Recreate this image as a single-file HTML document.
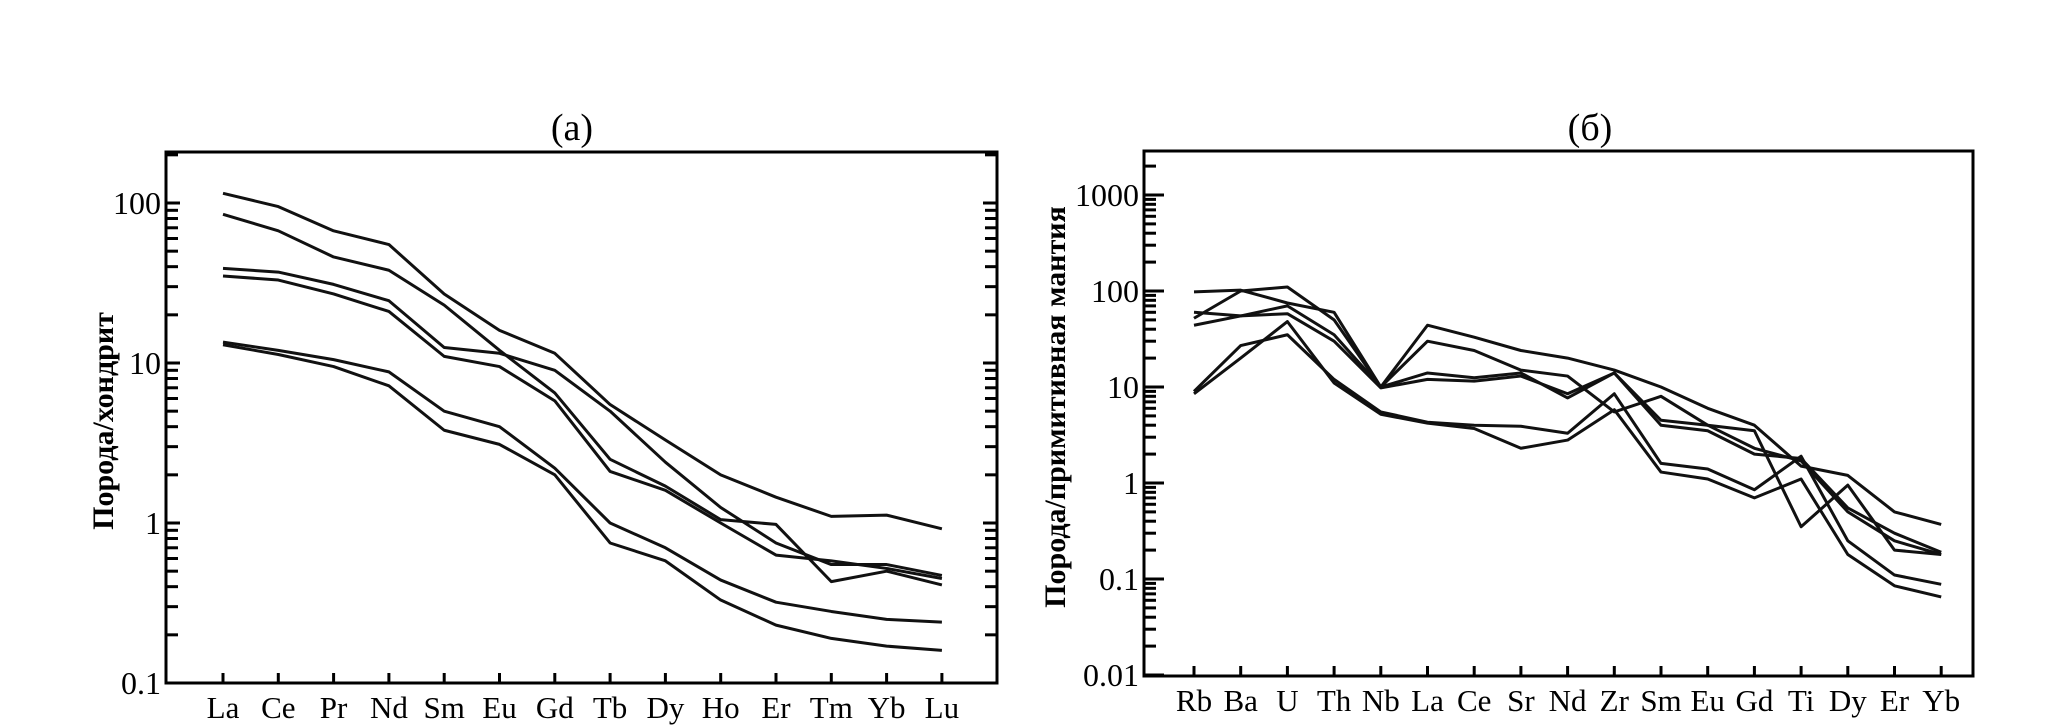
<!DOCTYPE html>
<html><head><meta charset="utf-8"><style>
html,body{margin:0;padding:0;background:#fff;}
svg{display:block;}
text{font-family:"Liberation Serif","DejaVu Serif",serif;fill:#000;}
</style></head><body>
<svg id="fig" width="2067" height="727" viewBox="0 0 2067 727"></svg>
<script>
const catsA=["La","Ce","Pr","Nd","Sm","Eu","Gd","Tb","Dy","Ho","Er","Tm","Yb","Lu"];
const serA1=[115,95,67,55,27,16,11.5,5.5,3.3,2.0,1.45,1.1,1.12,0.92];
const serA2=[85,67,46,38,23,12,6.5,2.5,1.7,1.05,0.98,0.43,0.5,0.41];
const serA3=[39,37,31,24.5,12.5,11.5,9,5,2.4,1.25,0.75,0.55,0.55,0.47];
const serA4=[35,33,27,21,11,9.5,5.8,2.1,1.6,1.0,0.63,0.58,0.52,0.45];
const serA5=[13.5,12,10.5,8.8,5,4,2.2,1.0,0.7,0.44,0.32,0.28,0.25,0.24];
const serA6=[13,11.3,9.5,7.2,3.8,3.1,2.0,0.75,0.58,0.33,0.23,0.19,0.17,0.16];
const ticksA=[0.1,1,10,100];
const tickLabelsA=["0.1","1","10","100"];
const catsB=["Rb","Ba","U","Th","Nb","La","Ce","Sr","Nd","Zr","Sm","Eu","Gd","Ti","Dy","Er","Yb"];
const serB1=[98,102,75,60,10,44,33,24,20,15,10,6,4,1.5,1.2,0.5,0.37];
const serB2=[52,100,110,50,10,30,24,15,13,5.5,8,4,3.5,0.35,0.95,0.2,0.18];
const serB3=[60,55,70,35,10,14,12.5,14,7.7,14,4,3.5,2,1.8,0.55,0.3,0.19];
const serB4=[44,55,58,30,9.8,12,11.5,13,8.5,14,4.5,4,2.3,1.7,0.5,0.25,0.18];
const serB5=[9,27,35,12,5.5,4.3,4,3.9,3.3,8.5,1.6,1.4,0.85,1.9,0.25,0.11,0.088];
const serB6=[8.5,20,48,11,5.2,4.2,3.7,2.3,2.8,5.8,1.3,1.1,0.7,1.1,0.18,0.085,0.065];
const ticksB=[0.01,0.1,1,10,100,1000];
const tickLabelsB=["0.01","0.1","1","10","100","1000"];

const NS="http://www.w3.org/2000/svg";
const svg=document.getElementById('fig');
function mk(tag,attrs,parent){const e=document.createElementNS(NS,tag);for(const k in attrs)e.setAttribute(k,attrs[k]);(parent||svg).appendChild(e);return e;}

function chart(cfg){
  const g=mk('g',{});
  
  
  const y=v=>cfg.y0-(Math.log10(v)-Math.log10(cfg.vmin))*cfg.dec;
  const x=i=>cfg.x0+i*cfg.step;
  const fr=mk('rect',{x:cfg.L,y:cfg.T,width:cfg.R-cfg.L,height:cfg.B-cfg.T,fill:'none',stroke:'#000','stroke-width':3},g);
  
  
  const lo=Math.round(Math.log10(cfg.vmin)),hi=Math.round(Math.log10(cfg.ticks[cfg.ticks.length-1]));
  for(let d=lo;d<=hi;d++){
    for(let m=1;m<=9;m++){
      const v=m*Math.pow(10,d);const py=y(v);
      if(py<cfg.T||py>cfg.B)continue;
      const len=m===1?cfg.majLen:cfg.minLen;
      mk('line',{x1:cfg.L,x2:cfg.L+len,y1:py,y2:py,stroke:'#000','stroke-width':3},g);
      if(cfg.rightTicks)mk('line',{x1:cfg.R,x2:cfg.R-len,y1:py,y2:py,stroke:'#000','stroke-width':3},g);
    }
  }
  cfg.ticks.forEach((v,i)=>{
    const t=mk('text',{x:cfg.L-5,y:y(v)+11,'text-anchor':'end','font-size':32},g);
    t.textContent=cfg.tickLabels[i];
    
    
  });
  cfg.cats.forEach((c,i)=>{
    mk('line',{x1:x(i),x2:x(i),y1:cfg.B,y2:cfg.B-10,stroke:'#000','stroke-width':3},g);
    const t=mk('text',{x:x(i),y:cfg.B+35,'text-anchor':'middle','font-size':31},g);
    t.textContent=c;
    
    
  });
  cfg.series.forEach((s,k)=>{
    const p=mk('polyline',{points:s.map((v,i)=>x(i)+','+y(v)).join(' '),fill:'none',stroke:'#111','stroke-width':3,'stroke-linejoin':'round'},g);
    
    
  });
  const tt=mk('text',{x:cfg.titleX,y:140,'text-anchor':'middle','font-size':38},g);
  tt.textContent=cfg.title;
  
  
  const yt=mk('text',{x:0,y:0,'text-anchor':'middle','font-size':30,'font-weight':'bold',transform:`translate(${cfg.ytX},${cfg.ytY}) rotate(-90)`},g);
  yt.textContent=cfg.ytitle;
  
  
}
chart({name:'chart-a',L:166,R:997,T:152,B:683,y0:683,vmin:0.1,dec:160,x0:223,step:55.3,
  cats:catsA,series:[serA1,serA2,serA3,serA4,serA5,serA6],ticks:ticksA,tickLabels:tickLabelsA,
  majLen:14,minLen:12,rightTicks:true,title:'(a)',titleX:572,ytitle:'Порода/хондрит',ytX:113,ytY:421});
chart({name:'chart-b',L:1144,R:1973,T:151,B:676,y0:675,vmin:0.01,dec:96,x0:1194,step:46.7,
  cats:catsB,series:[serB1,serB2,serB3,serB4,serB5,serB6],ticks:ticksB,tickLabels:tickLabelsB,
  majLen:20,minLen:12,rightTicks:false,title:'(б)',titleX:1590,ytitle:'Порода/примитивная мантия',ytX:1065,ytY:407});
</script>
</body></html>
